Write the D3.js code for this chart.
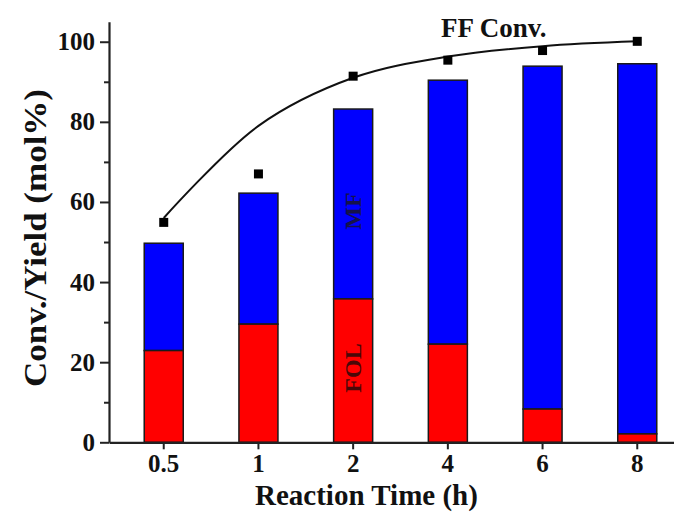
<!DOCTYPE html>
<html>
<head>
<meta charset="utf-8">
<script src="https://cdn.jsdelivr.net/npm/d3@7"></script>
<style>
  body { margin: 0; background: #fff; }
  svg { display: block; }
  svg text { font-family: "Liberation Serif", "Times New Roman", serif !important; font-weight: bold; }
</style>
</head>
<body>
<script>
// reaction times (h)
var times = ["0.5", "1", "2", "4", "6", "8"];
// FOL yield (mol%)
var folYield = [22.9, 29.5, 35.8, 24.5, 8.3, 2.1];
// MF yield (mol%), stacked on FOL
var mfYield = [26.8, 32.7, 47.4, 65.9, 85.6, 92.4];
// FF conversion (mol%)
var ffConv = [54.9, 67.0, 91.4, 95.4, 97.8, 100.1];
// fitted conversion curve read at each time
var ffFit = [56.0, 79.0, 91.0, 96.3, 98.9, 100.1];

var yTicks = [0, 20, 40, 60, 80, 100];
var yMinor = [10, 30, 50, 70, 90];

var W = 674, H = 514;

var svg = d3.select("body").append("svg")
  .attr("width", W)
  .attr("height", H);

var x = d3.scaleBand()
  .domain(times)
  .range([109, 692])
  .paddingInner(0.588)
  .paddingOuter(0.372);

var y = d3.scaleLinear()
  .domain([0, 105])
  .range([442.3, 21.7]);

var rows = times.map(function(t, i) {
  return { t: t, fol: folYield[i], mf: mfYield[i], conv: ffConv[i], fit: ffFit[i] };
});

// stacked bars
var bars = svg.append("g");

bars.selectAll("rect.mf")
  .data(rows)
  .enter()
    .append("rect")
      .attr("class", "mf")
      .attr("x", function(d) { return x(d.t); })
      .attr("width", x.bandwidth())
      .attr("y", function(d) { return y(d.fol + d.mf); })
      .attr("height", function(d) { return y(d.fol) - y(d.fol + d.mf); })
      .attr("fill", "#0000ff")
      .attr("stroke", "#1a1a1a")
      .attr("stroke-width", 1.5);

bars.selectAll("rect.fol")
  .data(rows)
  .enter()
    .append("rect")
      .attr("class", "fol")
      .attr("x", function(d) { return x(d.t); })
      .attr("width", x.bandwidth())
      .attr("y", function(d) { return y(d.fol); })
      .attr("height", function(d) { return y(0) - y(d.fol); })
      .attr("fill", "#ff0000")
      .attr("stroke", "#1a1a1a")
      .attr("stroke-width", 1.5);

// labels inside the 2 h bar
var cx = x("2") + x.bandwidth() / 2;

svg.append("text")
  .attr("transform", "translate(" + (cx + 8) + "," + 211 + ") rotate(-90)")
  .attr("text-anchor", "middle")
  .attr("font-size", 24)
  .attr("fill", "#15124a")
  .text("MF");

svg.append("text")
  .attr("transform", "translate(" + (cx + 8) + "," + 368 + ") rotate(-90)")
  .attr("text-anchor", "middle")
  .attr("font-size", 24)
  .attr("fill", "#4a0808")
  .text("FOL");

// axes
svg.append("g")
  .attr("transform", "translate(109,0)")
  .call(d3.axisLeft(y).tickValues(yTicks).tickSize(9).tickSizeOuter(0).tickPadding(5));

svg.append("g")
  .attr("transform", "translate(109,0)")
  .call(d3.axisLeft(y).tickValues(yMinor).tickSize(5).tickFormat(""))
  .select(".domain").remove();

svg.append("g")
  .attr("transform", "translate(0," + y(0) + ")")
  .call(d3.axisBottom(x).tickSize(7).tickSizeOuter(0).tickPadding(5));

svg.selectAll(".domain")
  .attr("stroke", "#222")
  .attr("stroke-width", 2.2);

svg.selectAll(".tick line")
  .attr("stroke", "#222")
  .attr("stroke-width", 2);

svg.selectAll(".tick text")
  .attr("font-size", 25)
  .attr("fill", "#111");

// conversion fit curve
var line = d3.line()
  .x(function(d) { return x(d.t) + x.bandwidth() / 2; })
  .y(function(d) { return y(d.fit); })
  .curve(d3.curveCatmullRom.alpha(0.5));

svg.append("path")
  .datum(rows)
  .attr("d", line)
  .attr("fill", "none")
  .attr("stroke", "#111")
  .attr("stroke-width", 2);

// conversion markers
svg.selectAll("rect.conv")
  .data(rows)
  .enter()
    .append("rect")
      .attr("class", "conv")
      .attr("x", function(d) { return x(d.t) + x.bandwidth() / 2 - 4.5; })
      .attr("y", function(d) { return y(d.conv) - 4.5; })
      .attr("width", 9)
      .attr("height", 9)
      .attr("fill", "#000");

svg.append("text")
  .attr("x", 441)
  .attr("y", 37)
  .attr("font-size", 27)
  .attr("fill", "#111")
  .text("FF Conv.");

// axis titles
svg.append("text")
  .attr("x", 255)
  .attr("y", 505)
  .attr("font-size", 29)
  .attr("fill", "#111")
  .text("Reaction Time (h)");

svg.append("text")
  .attr("transform", "translate(46,238) rotate(-90)")
  .attr("text-anchor", "middle")
  .attr("font-size", 32)
  .attr("textLength", 298)
  .attr("lengthAdjust", "spacingAndGlyphs")
  .attr("fill", "#111")
  .text("Conv./Yield (mol%)");
</script>
</body>
</html>
